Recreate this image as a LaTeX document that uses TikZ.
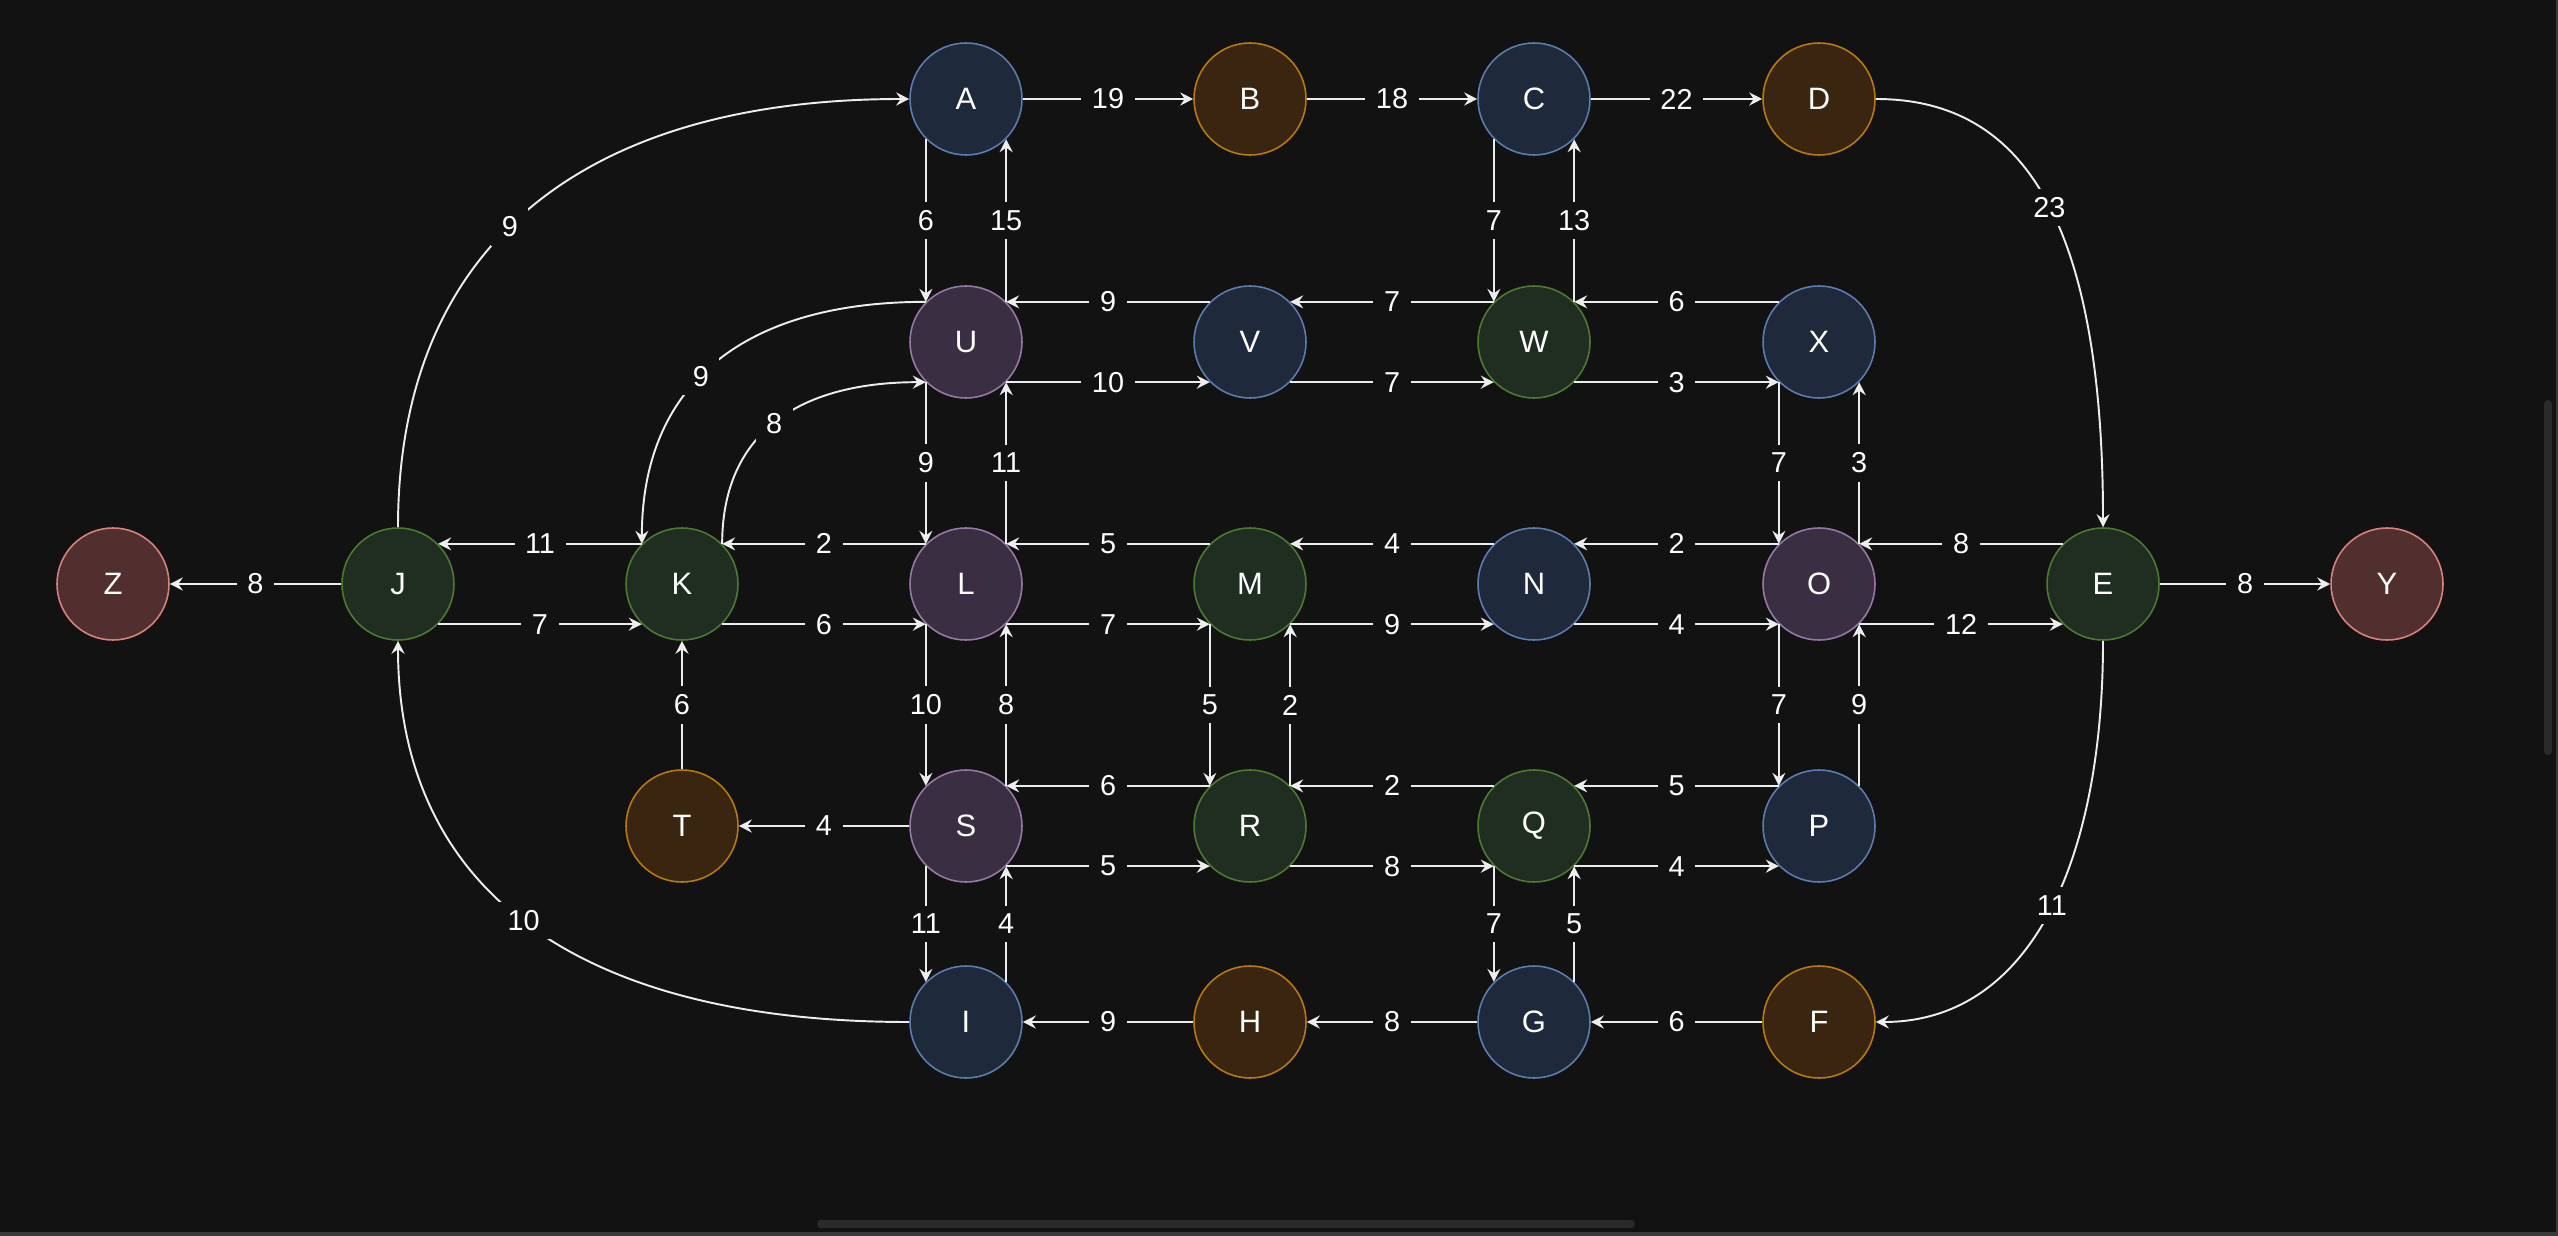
\documentclass[tikz,border=0pt]{standalone}
\usepackage{fontspec}
\setmainfont{Liberation Sans}
\usetikzlibrary{arrows.meta}
\definecolor{bgdark}{HTML}{121212}
\definecolor{edgewhite}{HTML}{EDEDED}
\definecolor{bluefill}{HTML}{1E293B}
\definecolor{blueline}{HTML}{5A7DAE}
\definecolor{brownfill}{HTML}{3A2510}
\definecolor{brownline}{HTML}{B87A0A}
\definecolor{greenfill}{HTML}{1F2E20}
\definecolor{greenline}{HTML}{4B7A30}
\definecolor{purplefill}{HTML}{3A2F42}
\definecolor{purpleline}{HTML}{9678A6}
\definecolor{redfill}{HTML}{522F2F}
\definecolor{redline}{HTML}{D7827D}
\definecolor{scrollgray}{HTML}{2A2A2A}
\definecolor{chromegray}{HTML}{3A3A3C}

\begin{document}
\begin{tikzpicture}[
    vtx/.style={circle,minimum size=1.12cm,inner sep=0pt,line width=0.45pt,
                text=white,font=\fontsize{8.8}{10}\selectfont},
    bluev/.style={vtx,fill=bluefill,draw=blueline},
    brownv/.style={vtx,fill=brownfill,draw=brownline},
    greenv/.style={vtx,fill=greenfill,draw=greenline},
    purplev/.style={vtx,fill=purplefill,draw=purpleline},
    redv/.style={vtx,fill=redfill,draw=redline},
    conn/.style={draw=edgewhite,line width=0.55pt,
                 -{Stealth[length=1.3mm,width=1.3mm,inset=0.45mm]}},
    lbl/.style={fill=bgdark,text=white,font=\fontsize{8.2}{9.8}\selectfont,
                inner xsep=3pt,inner ysep=2.4pt}
  ]
  % canvas
  \fill[bgdark] (0,0) rectangle (25.58,-12.36);
  \useasboundingbox (0,0) rectangle (25.58,-12.36);
  \fill[scrollgray,rounded corners=0.04cm] (8.17,-12.20) rectangle (16.35,-12.28);
  \fill[scrollgray,rounded corners=0.04cm] (25.44,-4.00) rectangle (25.52,-7.55);
  \fill[chromegray] (0,-12.32) rectangle (25.58,-12.36);
  \fill[chromegray] (25.56,0) rectangle (25.58,-12.36);

  % top row
  \node[bluev]   (A) at (9.66,-0.99)  {A};
  \node[brownv]  (B) at (12.50,-0.99) {B};
  \node[bluev]   (C) at (15.34,-0.99) {C};
  \node[brownv]  (D) at (18.19,-0.99) {D};
  % second row
  \node[purplev] (U) at (9.66,-3.42)  {U};
  \node[bluev]   (V) at (12.50,-3.42) {V};
  \node[greenv]  (W) at (15.34,-3.42) {W};
  \node[bluev]   (X) at (18.19,-3.42) {X};
  % middle row
  \node[redv]    (Z) at (1.13,-5.84)  {Z};
  \node[greenv]  (J) at (3.98,-5.84)  {J};
  \node[greenv]  (K) at (6.82,-5.84)  {K};
  \node[purplev] (L) at (9.66,-5.84)  {L};
  \node[greenv]  (M) at (12.50,-5.84) {M};
  \node[bluev]   (N) at (15.34,-5.84) {N};
  \node[purplev] (O) at (18.19,-5.84) {O};
  \node[greenv]  (E) at (21.03,-5.84) {E};
  \node[redv]    (Y) at (23.87,-5.84) {Y};
  % fourth row
  \node[brownv]  (T) at (6.82,-8.26)  {T};
  \node[purplev] (S) at (9.66,-8.26)  {S};
  \node[greenv]  (R) at (12.50,-8.26) {R};
  \node[greenv]  (Q) at (15.34,-8.26) {Q};
  \node[bluev]   (P) at (18.19,-8.26) {P};
  % bottom row
  \node[bluev]   (I) at (9.66,-10.22)  {I};
  \node[brownv]  (H) at (12.50,-10.22) {H};
  \node[bluev]   (G) at (15.34,-10.22) {G};
  \node[brownv]  (F) at (18.19,-10.22) {F};

  % single straight edges
  \foreach \a/\b/\w in {A/B/19, B/C/18, C/D/22, J/Z/8, E/Y/8,
                        T/K/6, S/T/4, H/I/9, G/H/8, F/G/6}
    \draw[conn] (\a) -- node[lbl] {\w} (\b);

  % paired edges, upper lane going left
  \foreach \a/\b/\w in {V/U/9, W/V/7, X/W/6, K/J/11, L/K/2, M/L/5,
                        N/M/4, O/N/2, E/O/8, R/S/6, Q/R/2, P/Q/5}
    \draw[conn] (\a.135) -- node[lbl] {\w} (\b.45);
  % paired edges, lower lane going right
  \foreach \a/\b/\w in {U/V/10, V/W/7, W/X/3, J/K/7, K/L/6, L/M/7,
                        M/N/9, N/O/4, O/E/12, S/R/5, R/Q/8, Q/P/4}
    \draw[conn] (\a.315) -- node[lbl] {\w} (\b.225);
  % paired edges, left lane going down
  \foreach \a/\b/\w in {A/U/6, C/W/7, U/L/9, X/O/7, L/S/10,
                        M/R/5, O/P/7, S/I/11, Q/G/7}
    \draw[conn] (\a.225) -- node[lbl] {\w} (\b.135);
  % paired edges, right lane going up
  \foreach \a/\b/\w in {U/A/15, W/C/13, L/U/11, O/X/3, S/L/8,
                        R/M/2, P/O/9, I/S/4, G/Q/5}
    \draw[conn] (\a.45) -- node[lbl] {\w} (\b.315);

  % curved edges
  \draw[conn] (J.north) .. controls +(0,2.78) and +(-3.3,0)
    .. node[lbl,pos=0.46] {9} (A.west);
  \draw[conn] (U.135) .. controls +(-1.85,0) and +(0,1.57)
    .. node[lbl,pos=0.55] {9} (K.135);
  \draw[conn] (K.45) .. controls +(0,1.06) and +(-1.33,0)
    .. node[lbl,pos=0.5] {8} (U.225);
  \draw[conn] (I.west) .. controls +(-3.33,0) and +(0,-2.48)
    .. node[lbl,pos=0.51] {10} (J.south);
  \draw[conn] (D.east) .. controls +(1.35,0) and +(0,3.27)
    .. node[lbl,pos=0.54] {23} (E.north);
  \draw[conn] (E.south) .. controls +(0,-2.2) and +(1.55,0)
    .. node[lbl,pos=0.48] {11} (F.east);
\end{tikzpicture}
\end{document}
